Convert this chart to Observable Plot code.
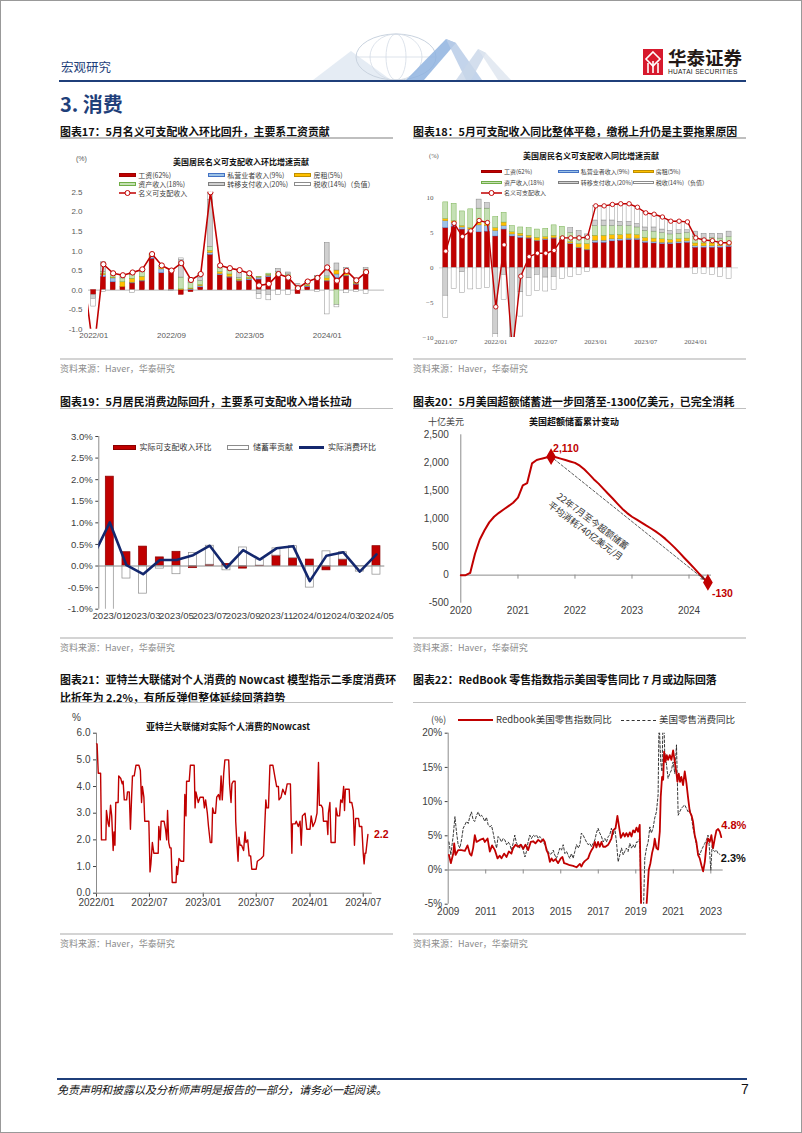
<!DOCTYPE html>
<html><head><meta charset="utf-8">
<script src="https://cdn.jsdelivr.net/npm/d3@7"></script>
<script src="https://cdn.jsdelivr.net/npm/@observablehq/plot@0.6"></script>
<style>
body{margin:0;background:#fff;}
#page{position:relative;width:802px;height:1133px;box-sizing:border-box;border:1px solid #999;overflow:hidden;font-family:"Noto Sans CJK SC","Liberation Sans",sans-serif;background:#fff;}
.abs{position:absolute;white-space:nowrap;line-height:1;}
</style></head><body><div id="page"></div>
<script>
// ---------------- DATA ----------------
// Chart 17: nominal disposable income, m/m contribution (%)
const months17 = ["2022/01","2022/02","2022/03","2022/04","2022/05","2022/06","2022/07","2022/08","2022/09","2022/10","2022/11","2022/12","2023/01","2023/02","2023/03","2023/04","2023/05","2023/06","2023/07","2023/08","2023/09","2023/10","2023/11","2023/12","2024/01","2024/02","2024/03","2024/04","2024/05"];
const ticks17 = ["2022/01","2022/09","2023/05","2024/01"];
const wage17 = [-0.12,0.33,0.2,0.08,0.17,0.22,0.8,0.43,0.48,-0.12,-0.05,0.07,0.9,0.38,0.32,0.22,0.25,0.27,0.33,0.33,0.28,-0.1,0.08,0.25,0.22,0.3,0.35,0.14,0.4];
const prop17 = [0,0.05,0.1,0,0.02,0.02,0.04,0.1,0.02,0,0.02,0.03,0.05,0.03,0.02,0.02,0.03,0.05,0.04,0.02,0.02,0.02,0.02,0.02,0.02,0.1,0.02,0.02,0.03];
const rent17 = [0,0.03,0.02,0.12,0.1,0.1,0.03,0.03,0,0.02,0.02,0.03,0.05,0.05,0.06,0.03,0.03,0.01,0.02,0.05,0.05,0.03,0.02,0.02,0.06,0.1,0.08,0.03,0.04];
const asset17 = [0,0.05,0.08,0.1,0.1,0.12,0.03,0.04,0.01,0.3,0.15,0.1,0.1,0.1,0.1,0.04,0.05,0.01,0.03,0.06,0.05,0.05,0.04,0.04,0.05,-0.38,0.05,0.05,0.05];
const transfer17 = [-0.1,0.25,0.02,0.08,0.05,0.07,0.02,0.03,0,0.45,0.1,0.08,1.2,0.07,0.06,0.2,0.07,-0.1,-0.12,0.08,0.05,0.05,0.06,0.03,0.85,0.18,0.07,0.06,0.04];
const tax17 = [-0.2,-0.05,0,0,-0.07,0,0,0,-0.02,0.04,0.02,0.1,0.2,0,0,0,0,-0.12,-0.14,-0.13,-0.13,0,0,-0.05,-0.62,-0.06,-0.08,-0.05,-0.1];
const total17 = [-1.6,0.66,0.43,0.38,0.45,0.53,0.92,0.63,0.5,0.69,0.26,0.41,2.5,0.63,0.56,0.51,0.43,0.12,0.16,0.41,0.32,0.05,0.22,0.31,0.58,0.24,0.49,0.25,0.46];
const prevTotal17 = 0.3; // 2021/12, only its segment enters the frame

// Chart 18: nominal disposable income, y/y contribution (%)
const months18 = ["2021/07","2021/08","2021/09","2021/10","2021/11","2021/12"].concat(months17);
const ticks18 = ["2021/07","2022/01","2022/07","2023/01","2023/07","2024/01"];
const wage18 = [5.7,5.9,5.5,5.2,5.1,5.2,4.5,5.5,4.5,4.3,4.2,3.8,4.0,4.2,4.0,3.4,2.8,2.5,3.6,3.6,3.8,3.9,4.0,4.0,3.6,3.5,3.4,3.4,3.5,3.6,2.9,2.9,2.9,2.9,3.0];
const prop18 = [1.0,0.5,0.3,0.3,1.0,0.8,0.8,0.5,0.3,0.3,0.1,0.1,0.1,0.1,0.1,0.1,0.1,0.1,0.3,0.3,0.3,0.2,0.2,0.2,0.2,0.2,0.2,0.2,0.2,0.2,0.2,0.2,0.2,0.2,0.2];
const rent18 = [0.3,0.3,0.2,0.2,0.4,0.3,0.4,0.5,0.3,0.3,0.3,0.4,0.3,0.3,0.3,0.2,0.5,0.8,0.7,0.7,0.6,0.6,0.6,0.5,0.5,0.5,0.5,0.4,0.4,0.4,0.4,0.4,0.4,0.3,0.4];
const asset18 = [2.4,2.5,2.1,2.7,2.0,2.2,1.6,1.4,0.9,0.9,1.1,1.2,1.2,1.5,1.5,1.3,1.1,0.7,1.4,1.4,1.3,1.3,1.2,1.1,1.0,1.0,0.9,0.8,0.8,0.8,0.9,0.7,0.8,0.8,0.8];
const transfer18 = [-4.0,0,-0.6,0,1.3,0.8,-9.5,-1.0,-14,-3.5,-1.5,-1.0,-1.4,-1.3,0,0.7,0.8,0.7,0.8,0.8,0.8,0.6,0.6,0.5,0.5,0.6,0.5,0.5,0.5,0.4,0.8,0.7,0.6,0.7,0.8];
const tax18 = [-3.2,-3.0,-3.0,-3.1,-3.0,-2.9,-3.4,-3.6,-3.7,-3.5,-2.5,-2.3,-2.0,-1.9,-1.6,-1.3,-1.0,-0.6,2.1,2.1,2.3,2.6,2.6,2.4,2.1,1.9,1.8,1.4,1.3,1.2,-0.9,-0.9,-1.0,-1.3,-1.6];
const total18 = [2.4,6.4,4.5,5.3,6.8,6.5,-5.6,3.3,-12,-1.2,1.6,2.1,2.1,2.5,4.3,4.3,4.3,4.4,8.9,8.9,9.1,9.2,9.2,8.7,7.9,7.7,7.3,6.7,6.7,6.6,4.3,4.0,3.9,3.6,3.6];

const compNames = ["工资(62%)","私营业者收入(9%)","房租(5%)","资产收入(18%)","转移支付收入(20%)","税收(14%)（负值）"];
const compFill = ["#C00000","#9DC3E6","#FFC000","#C5E0B4","#D0D0D0","#FFFFFF"];
const compStroke = ["#A00000","#4472C4","#BF8F00","#70AD47","#7F7F7F","#8C8C8C"];

// Chart 19: real income, saving contribution, real consumption m/m (%)
const months19 = ["2023/01","2023/02","2023/03","2023/04","2023/05","2023/06","2023/07","2023/08","2023/09","2023/10","2023/11","2023/12","2024/01","2024/02","2024/03","2024/04","2024/05"];
const income19 = [2.07,0.32,0.45,0.2,0.33,-0.05,0.03,0.05,-0.06,0.01,0.24,0.18,0.15,-0.1,0.15,0,0.46];
const saving19 = [-1.06,-0.29,-0.64,-0.06,-0.19,0.3,0.44,-0.1,0.43,0.14,0.17,0.28,-0.5,0.34,0.17,-0.13,-0.2];
const consumption19 = [1.01,0.02,-0.19,0.14,0.14,0.25,0.47,-0.04,0.37,0.15,0.41,0.46,-0.35,0.24,0.32,-0.13,0.27];
const prevConsumption19 = 0.22; // 2022/12

// Chart 20: cumulative excess savings (bn USD), monthly from 2020/01
const start20 = new Date(Date.UTC(2020,0,1));
const excess20 = [0,0,40,380,630,800,940,1040,1110,1170,1230,1290,1380,1600,1640,1990,2050,2075,2095,2110,2100,2075,2050,2025,2000,1950,1885,1800,1710,1630,1540,1450,1360,1270,1180,1105,1040,990,940,885,835,780,720,650,570,490,400,310,220,130,40,-50,-130];
const years20 = [2020,2021,2022,2023,2024];

// Chart 21: Atlanta Fed nowcast [days since 2022-01-01, %]
const nowcast21 = [[0,5.6],[2,5.6],[6,4.5],[14,4.5],[17,2.0],[32,2.0],[34,3.1],[40,2.6],[43,2.5],[48,3.3],[52,2.9],[57,1.6],[60,2.3],[63,1.8],[66,3.4],[74,3.4],[76,4.4],[83,4.3],[88,4.1],[91,4.2],[95,3.5],[103,3.5],[106,3.8],[112,3.8],[116,2.4],[120,3.6],[123,4.4],[129,4.4],[135,4.8],[145,4.8],[150,4.6],[154,3.4],[157,4.0],[162,3.6],[165,2.7],[179,2.7],[183,0.8],[186,1.1],[191,1.9],[196,1.5],[211,1.5],[213,2.5],[218,2.0],[221,2.7],[231,2.7],[236,2.4],[240,2.0],[243,3.1],[247,1.9],[251,1.7],[255,1.7],[259,0.4],[272,0.4],[274,1.0],[277,0.7],[282,1.3],[289,1.2],[298,1.2],[302,3.7],[306,2.9],[308,4.2],[317,4.2],[321,4.8],[334,4.8],[337,3.2],[340,3.8],[348,3.4],[354,3.6],[365,3.6],[369,3.2],[373,3.5],[379,3.0],[383,2.5],[389,1.9],[394,1.9],[397,3.2],[402,3.0],[407,3.0],[411,3.6],[417,3.7],[422,3.5],[426,4.4],[430,3.5],[435,4.5],[439,5.0],[452,5.0],[455,4.1],[460,3.4],[463,4.1],[468,4.2],[474,4.2],[476,2.7],[480,1.9],[484,1.2],[487,2.1],[491,1.8],[496,1.8],[503,1.6],[508,2.3],[511,1.9],[517,2.0],[522,1.4],[527,1.4],[531,0.9],[546,0.9],[550,1.2],[563,1.3],[571,1.4],[579,3.5],[582,3.2],[588,3.2],[593,4.8],[603,4.8],[611,4.3],[616,4.0],[622,4.0],[624,3.5],[631,3.6],[637,3.9],[645,3.7],[652,4.1],[663,4.1],[668,1.5],[670,2.6],[679,2.6],[683,2.7],[690,2.5],[696,2.7],[700,1.8],[704,2.9],[713,3.0],[719,2.4],[730,2.4],[734,2.9],[740,2.5],[748,2.7],[754,3.0],[759,4.9],[762,3.3],[768,3.3],[773,3.2],[776,2.7],[788,2.7],[791,2.2],[793,3.0],[798,3.4],[802,1.9],[816,1.9],[819,3.2],[824,2.9],[831,2.9],[835,3.5],[840,3.4],[845,4.0],[848,3.1],[851,3.9],[864,3.9],[866,3.4],[873,3.4],[878,3.1],[882,1.8],[886,2.8],[896,2.8],[899,2.5],[907,2.5],[912,1.5],[915,1.1],[918,1.5],[921,1.5],[924,1.8],[928,2.2]];
const ticks21 = ["2022-01","2022-07","2023-01","2023-07","2024-01","2024-07"];

// Chart 22: Redbook y/y and retail sales y/y [year, %]
const redbook22 = [[2009.04,2.2],[2009.14,1.0],[2009.27,2.4],[2009.32,3.9],[2009.39,2.2],[2009.53,2.9],[2009.71,2.9],[2009.89,2.8],[2010.03,3.6],[2010.15,2.4],[2010.24,2.1],[2010.33,3.2],[2010.42,5.1],[2010.51,4.1],[2010.69,4.4],[2010.87,4.6],[2010.95,4.1],[2011.10,4.6],[2011.22,2.7],[2011.34,3.6],[2011.49,2.9],[2011.63,1.7],[2011.75,2.1],[2011.84,1.7],[2011.98,2.4],[2012.11,1.9],[2012.23,2.7],[2012.37,2.4],[2012.46,3.2],[2012.59,3.7],[2012.73,3.4],[2012.87,3.7],[2013.00,3.1],[2013.12,3.7],[2013.26,2.9],[2013.40,4.1],[2013.53,4.2],[2013.65,3.9],[2013.80,4.4],[2013.94,4.1],[2014.06,4.5],[2014.15,4.1],[2014.24,2.9],[2014.33,2.4],[2014.42,1.2],[2014.51,1.7],[2014.60,1.3],[2014.72,1.6],[2014.86,1.0],[2015.00,1.7],[2015.09,1.9],[2015.18,1.0],[2015.31,0.9],[2015.48,0.7],[2015.66,0.6],[2015.84,0.4],[2016.02,0.9],[2016.10,0.5],[2016.19,1.0],[2016.28,1.3],[2016.46,1.7],[2016.55,2.4],[2016.64,2.9],[2016.73,3.3],[2016.82,4.1],[2016.90,3.3],[2016.99,4.1],[2017.08,3.4],[2017.17,4.1],[2017.26,3.4],[2017.38,3.4],[2017.53,3.7],[2017.61,4.1],[2017.70,4.6],[2017.79,5.8],[2017.92,6.1],[2018.02,7.9],[2018.11,6.3],[2018.20,4.7],[2018.33,5.4],[2018.41,4.9],[2018.50,5.4],[2018.59,4.9],[2018.68,5.5],[2018.77,4.9],[2018.86,5.8],[2018.95,5.5],[2019.04,6.2],[2019.12,5.6],[2019.21,6.6],[2019.30,-8],[2019.48,-9],[2019.60,-4.0],[2019.69,0.0],[2019.78,1.0],[2019.87,2.5],[2019.96,3.5],[2020.01,4.6],[2020.10,3.2],[2020.19,3.0],[2020.28,5.6],[2020.33,10.7],[2020.40,13.6],[2020.46,13.2],[2020.51,17.3],[2020.58,15.8],[2020.65,16.8],[2020.72,16.1],[2020.81,16.8],[2020.90,16.1],[2020.99,17.5],[2021.08,15.8],[2021.17,14.1],[2021.22,12.9],[2021.29,14.1],[2021.36,12.9],[2021.43,13.6],[2021.52,12.4],[2021.61,14.4],[2021.70,12.7],[2021.79,10.5],[2021.88,8.5],[2021.97,8.0],[2022.05,7.1],[2022.14,5.1],[2022.23,4.1],[2022.32,2.2],[2022.41,1.7],[2022.50,0.7],[2022.59,-0.2],[2022.68,1.2],[2022.77,3.7],[2022.85,4.6],[2022.94,4.1],[2023.03,5.1],[2023.12,3.2],[2023.21,4.6],[2023.30,5.8],[2023.39,6.0],[2023.48,5.6],[2023.56,4.8]];
const retail22 = [[2009.04,4.1],[2009.14,2.2],[2009.27,5.1],[2009.36,7.8],[2009.44,5.6],[2009.53,3.7],[2009.62,3.2],[2009.71,4.4],[2009.80,6.1],[2009.89,6.6],[2009.98,7.1],[2010.07,6.8],[2010.15,7.8],[2010.24,8.5],[2010.33,7.3],[2010.42,7.1],[2010.51,8.0],[2010.60,8.5],[2010.69,7.8],[2010.78,8.0],[2010.87,7.6],[2010.95,7.1],[2011.04,7.7],[2011.13,6.6],[2011.22,6.3],[2011.31,6.5],[2011.40,5.4],[2011.49,4.1],[2011.58,3.2],[2011.66,4.9],[2011.75,4.6],[2011.84,4.1],[2011.93,4.6],[2012.02,4.4],[2012.11,3.7],[2012.20,4.1],[2012.29,3.7],[2012.37,2.9],[2012.46,3.9],[2012.55,5.1],[2012.64,3.9],[2012.73,3.7],[2012.82,3.2],[2012.91,3.7],[2013.00,2.9],[2013.09,1.9],[2013.17,2.7],[2013.26,4.1],[2013.35,5.1],[2013.44,4.6],[2013.53,5.1],[2013.62,4.9],[2013.71,5.1],[2013.80,4.6],[2013.88,4.9],[2013.97,4.6],[2014.06,4.1],[2014.15,3.7],[2014.24,3.2],[2014.33,2.7],[2014.42,2.3],[2014.51,2.4],[2014.60,2.9],[2014.68,2.2],[2014.77,1.7],[2014.86,2.4],[2014.95,3.2],[2015.04,2.9],[2015.13,3.7],[2015.22,2.4],[2015.31,2.7],[2015.39,2.2],[2015.48,1.7],[2015.57,2.4],[2015.66,1.7],[2015.75,2.7],[2015.84,3.7],[2015.93,3.2],[2016.02,3.7],[2016.10,5.4],[2016.19,5.1],[2016.28,4.6],[2016.37,4.1],[2016.46,3.7],[2016.55,3.9],[2016.64,3.4],[2016.73,3.9],[2016.82,4.4],[2016.90,5.4],[2016.99,6.1],[2017.08,5.4],[2017.17,4.9],[2017.26,4.1],[2017.35,4.6],[2017.44,4.1],[2017.53,4.9],[2017.61,5.1],[2017.70,6.1],[2017.79,5.1],[2017.88,6.1],[2017.97,4.1],[2018.06,1.2],[2018.15,2.2],[2018.24,3.2],[2018.33,2.2],[2018.41,2.7],[2018.50,3.2],[2018.59,2.7],[2018.68,3.9],[2018.77,3.2],[2018.86,3.7],[2018.95,3.2],[2019.04,4.1],[2019.12,4.1],[2019.21,4.6],[2019.30,-6],[2019.39,-8],[2019.48,1.7],[2019.57,3.2],[2019.66,4.1],[2019.75,6.3],[2019.83,5.4],[2019.92,6.1],[2020.01,7.6],[2020.10,8.5],[2020.19,11.0],[2020.24,22],[2020.33,15.8],[2020.40,14.4],[2020.47,25],[2020.54,17.3],[2020.63,15.6],[2020.72,13.4],[2020.81,14.1],[2020.90,14.6],[2020.99,15.8],[2021.08,14.1],[2021.17,18.3],[2021.26,8.0],[2021.34,8.5],[2021.43,9.0],[2021.52,9.3],[2021.61,9.5],[2021.70,9.0],[2021.79,8.5],[2021.88,8.8],[2021.97,7.8],[2022.05,6.1],[2022.14,5.1],[2022.23,3.7],[2022.32,2.7],[2022.41,2.2],[2022.50,2.9],[2022.59,3.4],[2022.68,3.9],[2022.77,4.4],[2022.85,5.1],[2022.91,3.7],[2023.00,0.0],[2023.07,3.7],[2023.12,2.9],[2023.21,2.7],[2023.30,2.9],[2023.39,2.4],[2023.48,2.3]];
const years22 = [2009,2011,2013,2015,2017,2019,2021,2023];

// ---------------- HELPERS ----------------
const page = document.getElementById("page");
function TL(txt, x, cy, css = {}) { const d = document.createElement("div"); d.className = "abs"; d.textContent = txt; Object.assign(d.style, {left: x + "px", top: cy + "px", transform: "translateY(-50%)"}, css); page.appendChild(d); return d; }
function TC(txt, cx, cy, css = {}) { const d = TL(txt, cx, cy, css); d.style.transform = "translate(-50%,-50%)"; return d; }
function box(x, y, w, h, css = {}) { const d = document.createElement("div"); d.className = "abs"; Object.assign(d.style, {left: x + "px", top: y + "px", width: w + "px", height: h + "px", boxSizing: "border-box"}, css); page.appendChild(d); return d; }
function put(node, x, y) { node.style.position = "absolute"; node.style.left = x + "px"; node.style.top = y + "px"; page.appendChild(node); }
function svgAt(x, y, w, h, inner) { const d = document.createElement("div"); d.className = "abs"; Object.assign(d.style, {left: x + "px", top: y + "px"}); d.innerHTML = `<svg width="${w}" height="${h}" style="display:block;overflow:visible">${inner}</svg>`; page.appendChild(d); return d; }
const fmtNum = v => v.toLocaleString("en-US");
const sans = "'Liberation Sans',Arial,sans-serif";
const cjk = "'Noto Sans CJK SC',sans-serif";
// stack components per index: positives upward, negatives downward
function stackRows(n, comps) {
  const out = [];
  for (let i = 0; i < n; i++) {
    let pos = 0, neg = 0;
    comps.forEach((arr, k) => {
      const v = arr[i];
      if (v >= 0) { out.push({i, k, y1: pos, y2: pos + v}); pos += v; }
      else { out.push({i, k, y1: neg, y2: neg + v}); neg += v; }
    });
  }
  return out;
}

// ---------------- HEADER ----------------
TL("宏观研究", 60, 66, {fontSize: "12.5px", color: "#1F3F7A"});
svgAt(305, 30, 215, 50, `
  <polygon points="7,49 45,20 85,49" fill="#dfe7f1" opacity="0.8"/>
  <ellipse cx="90" cy="26" rx="40" ry="23" fill="none" stroke="#c9d3df" stroke-width="1"/>
  <ellipse cx="90" cy="26" rx="26" ry="23" fill="none" stroke="#d4dce6" stroke-width="0.8"/>
  <ellipse cx="90" cy="26" rx="10" ry="23" fill="none" stroke="#d4dce6" stroke-width="0.8"/>
  <line x1="50" y1="26" x2="130" y2="26" stroke="#d4dce6" stroke-width="0.8"/>
  <polygon points="100,49 140,8 150,12 118,49" fill="#8fb3df" opacity="0.85"/>
  <polygon points="140,8 150,12 176,49 160,49" fill="#b9cde8" opacity="0.85"/>
  <polygon points="150,49 172,18 180,22 165,49" fill="#c8d6e8" opacity="0.8"/>
  <polygon points="172,18 180,22 205,49 192,49" fill="#dde5ef" opacity="0.8"/>`);
svgAt(642, 48, 20, 26, `
  <rect x="0" y="0" width="20" height="26" fill="#D7192D"/>
  <path d="M10 3 L17 10 L10 17 L3 10 Z" fill="none" stroke="#fff" stroke-width="1.6"/>
  <path d="M5 14 V24 M10 12 V24 M15 14 V24" stroke="#fff" stroke-width="1.6"/>`);
TL("华泰证券", 667, 56, {fontSize: "18.5px", fontWeight: "bold", color: "#231815"});
TL("HUATAI SECURITIES", 667, 71, {fontSize: "6.6px", fontFamily: sans, color: "#231815", letterSpacing: "0.3px"});
box(58, 79, 687, 2, {background: "#1F3F7A"});
TL("3. 消费", 59, 103, {fontSize: "20px", fontWeight: "bold", color: "#1F3F7A"});

// ---------------- TITLES / SOURCES ----------------
const titleCss = {fontSize: "10.9px", fontWeight: "bold", color: "#111"};
const srcCss = {fontSize: "9px", color: "#8c8c8c"};
function underline(x, y) { box(x, y, 333, 1.5, {background: "#BFBFBF"}); }
function source(x, lineY) { box(x, lineY, 333, 2, {background: "#D4D4D4"}); TL("资料来源：Haver，华泰研究", x, lineY + 10, srcCss); }

TL("图表17：5月名义可支配收入环比回升，主要系工资贡献", 59, 130, titleCss);
TL("图表18：5月可支配收入同比整体平稳，缴税上升仍是主要拖累原因", 412, 130, titleCss);
underline(59, 136); underline(412, 136);
source(59, 357); source(412, 357);

TL("图表19：5月居民消费边际回升，主要系可支配收入增长拉动", 59, 400, titleCss);
TL("图表20：5月美国超额储蓄进一步回落至-1300亿美元，已完全消耗", 412, 400, titleCss);
underline(59, 406.5); underline(412, 406.5);
source(59, 636); source(412, 636);

TL("图表21：亚特兰大联储对个人消费的 Nowcast 模型指示二季度消费环", 59, 678, titleCss);
TL("比折年为 2.2%，有所反弹但整体延续回落趋势", 59, 696, titleCss);
TL("图表22：RedBook 零售指数指示美国零售同比 7 月或边际回落", 412, 678, titleCss);
underline(59, 700.5); underline(412, 700.5);
source(59, 932); source(412, 932);

box(56, 1076.5, 690, 2, {background: "#1F3F7A"});
TL("免责声明和披露以及分析师声明是报告的一部分，请务必一起阅读。", 56, 1088, {fontSize: "11px", fontStyle: "italic", color: "#111"});
TL("7", 740, 1088, {fontSize: "14px", fontFamily: sans, color: "#111"});

// ---------------- LEGEND HELPERS ----------------
function swatch(x, cy, w, h, k) { box(x, cy - h / 2, w, h, {background: compFill[k], border: `0.7px solid ${compStroke[k]}`}); }
function lineMarkerSwatch(x, cy, w) { svgAt(x, cy - 4, w, 8, `<line x1="0" y1="4" x2="${w}" y2="4" stroke="#C00000" stroke-width="1.5"/><circle cx="${w/2}" cy="4" r="2.5" fill="#fff" stroke="#C00000" stroke-width="1"/>`); }

// ---------------- CHART 17 ----------------
{
  const comps = [wage17, prop17, rent17, asset17, transfer17, tax17];
  const bars = stackRows(months17.length, comps);
  const line = [{i: -1, v: prevTotal17}].concat(total17.map((v, i) => ({i, v})));
  put(Plot.plot({
    width: 330, height: 205, marginLeft: 27, marginRight: 7, marginTop: 50.7, marginBottom: 17.2,
    style: {fontFamily: sans, fontSize: "8px", color: "#595959", background: "transparent", overflow: "visible"},
    x: {domain: [-0.534, 29.89], ticks: ticks17.map(t => months17.indexOf(t)), tickFormat: i => months17[i], tickSize: 0, tickPadding: 3, label: null},
    y: {domain: [-1, 2.5], ticks: [-1, -0.5, 0, 0.5, 1, 1.5, 2, 2.5], tickFormat: d => d.toFixed(1), tickSize: 0, tickPadding: 6, label: null},
    color: {type: "identity"},
    marks: [
      Plot.ruleY([0], {stroke: "#a6a6a6", strokeWidth: 0.8}),
      Plot.rect(bars, {x1: d => d.i - 0.25, x2: d => d.i + 0.25, y1: "y1", y2: "y2", fill: d => compFill[d.k], stroke: d => compStroke[d.k], strokeWidth: 0.5, clip: true}),
      Plot.line(line, {x: "i", y: "v", stroke: "#C00000", strokeWidth: 1.6, clip: true}),
      Plot.dot(line, {x: "i", y: "v", r: 2.6, fill: "#fff", stroke: "#C00000", strokeWidth: 1, clip: true})
    ]
  }), 60, 140);
  TC("美国居民名义可支配收入环比增速贡献", 240, 161, {fontSize: "8px", fontWeight: "bold", color: "#111"});
  TL("(%)", 75, 157, {fontSize: "7px", color: "#595959", fontFamily: sans});
  const cols = [117.7, 206.7, 293], rows = [174.3, 183];
  compNames.forEach((name, k) => {
    const x = cols[k % 3], y = rows[Math.floor(k / 3)];
    swatch(x, y, 17, 4.2, k);
    TL(name, x + 19.5, y, {fontSize: "7px", color: "#404040"});
  });
  lineMarkerSwatch(117.7, 192.3, 17);
  TL("名义可支配收入", 137.2, 192.3, {fontSize: "7px", color: "#404040"});
}

// ---------------- CHART 18 ----------------
{
  const comps = [wage18, prop18, rent18, asset18, transfer18, tax18];
  const bars = stackRows(months18.length, comps);
  const line = total18.map((v, i) => ({i, v}));
  put(Plot.plot({
    width: 335, height: 210, marginLeft: 28, marginRight: 8, marginTop: 56.7, marginBottom: 14,
    style: {fontFamily: "'Liberation Serif','Times New Roman',serif", fontSize: "7px", color: "#595959", background: "transparent", overflow: "visible"},
    x: {domain: [-0.756, 35.13], ticks: ticks18.map(t => months18.indexOf(t)), tickFormat: i => months18[i], tickSize: 0, tickPadding: 2, label: null},
    y: {domain: [-10, 10], ticks: [-10, -5, 0, 5, 10], tickSize: 0, tickPadding: 6, label: null},
    color: {type: "identity"},
    marks: [
      Plot.ruleY([0], {stroke: "#bfbfbf", strokeWidth: 0.6}),
      Plot.rect(bars, {x1: d => d.i - 0.3, x2: d => d.i + 0.3, y1: "y1", y2: "y2", fill: d => compFill[d.k], stroke: d => compStroke[d.k], strokeWidth: 0.45, clip: true}),
      Plot.line(line, {x: "i", y: "v", stroke: "#C00000", strokeWidth: 1.4, clip: true}),
      Plot.dot(line, {x: "i", y: "v", r: 2.2, fill: "#fff", stroke: "#C00000", strokeWidth: 0.9, clip: true})
    ]
  }), 410, 140);
  TC("美国居民名义可支配收入同比增速贡献", 590, 155, {fontSize: "8px", fontWeight: "bold", color: "#111"});
  TL("(%)", 428, 155, {fontSize: "6.5px", color: "#595959", fontFamily: "'Liberation Serif',serif"});
  const cols = [480, 556.7, 631.7], rows = [170.7, 181.7];
  compNames.forEach((name, k) => {
    const x = cols[k % 3], y = rows[Math.floor(k / 3)];
    swatch(x, y, 21, 3.6, k);
    TL(name, x + 23, y, {fontSize: "6px", color: "#404040"});
  });
  lineMarkerSwatch(480, 192.3, 21);
  TL("名义可支配收入", 503, 192.3, {fontSize: "6px", color: "#404040"});
}

// ---------------- CHART 19 ----------------
{
  const bars = stackRows(months19.length, [income19, saving19]);
  const line = [{i: -1, v: prevConsumption19}].concat(consumption19.map((v, i) => ({i, v})));
  put(Plot.plot({
    width: 330, height: 200, marginLeft: 37.3, marginRight: 6.7, marginTop: 10, marginBottom: 17.3,
    style: {fontFamily: sans, fontSize: "9.6px", color: "#404040", background: "transparent", overflow: "visible"},
    x: {domain: [-0.66, 16.5], ticks: d3.range(0, 17, 2), tickFormat: i => months19[i], tickSize: 0, tickPadding: 3, label: null},
    y: {domain: [-1, 3], ticks: d3.range(-1, 3.01, 0.5), tickFormat: d => d.toFixed(1) + "%", tickSize: 3, tickPadding: 3, label: null},
    marks: [
      Plot.rect(bars, {x1: d => d.i - 0.24, x2: d => d.i + 0.24, y1: "y1", y2: "y2", fill: d => d.k ? "#ffffff" : "#C00000", stroke: d => d.k ? "#8c8c8c" : "#8B0000", strokeWidth: 0.7, clip: true}),
      Plot.ruleY([0], {stroke: "#8c8c8c"}),
      Plot.ruleX([-0.66], {stroke: "#8c8c8c"}),
      Plot.line(line, {x: "i", y: "v", stroke: "#14286E", strokeWidth: 2.6, clip: true})
    ]
  }), 60, 425);
  box(111.5, 443.5, 23.5, 5.5, {background: "#C00000", border: "0.7px solid #8B0000"});
  TL("实际可支配收入环比", 138.5, 446, {fontSize: "8px", color: "#333"});
  box(225.7, 443.5, 22.6, 5.5, {background: "#fff", border: "0.8px solid #8c8c8c"});
  TL("储蓄率贡献", 252, 446, {fontSize: "8px", color: "#333"});
  box(298.3, 445, 25, 2.6, {background: "#14286E"});
  TL("实际消费环比", 327, 446, {fontSize: "8px", color: "#333"});
}

// ---------------- CHART 20 ----------------
{
  const data = excess20.map((v, i) => ({date: d3.utcMonth.offset(start20, i), v}));
  const peak = data.reduce((a, b) => (b.v > a.v ? b : a));
  const end = data[data.length - 1];
  const mid = {date: new Date((+peak.date + +end.date) / 2), v: (peak.v + end.v) / 2};
  const yearDates = years20.map(y => new Date(Date.UTC(y, 0, 1)));
  put(Plot.plot({
    width: 335, height: 195, marginLeft: 49.3, marginRight: 35, marginTop: 8.3, marginBottom: 18.3,
    style: {fontFamily: sans, fontSize: "10px", color: "#404040", background: "transparent", overflow: "visible"},
    x: {type: "utc", domain: [start20, new Date(Date.UTC(2024, 4, 24))], ticks: yearDates, tickFormat: d3.utcFormat("%Y"), tickSize: 0, tickPadding: 4, label: null},
    y: {domain: [-500, 2500], ticks: d3.range(-500, 2501, 500), tickFormat: fmtNum, tickSize: 0, tickPadding: 12, label: null},
    marks: [
      Plot.ruleX([start20], {stroke: "#8c8c8c"}),
      Plot.ruleY([0], {stroke: "#8c8c8c"}),
      Plot.ruleX(yearDates.slice(1), {y1: 0, y2: 0, insetBottom: -4, stroke: "#8c8c8c"}),
      Plot.line(data, {x: "date", y: "v", stroke: "#C00000", strokeWidth: 2}),
      Plot.arrow([{p: peak, e: end}], {x1: d => d.p.date, y1: d => d.p.v, x2: d => d.e.date, y2: d => d.e.v, stroke: "#333", strokeWidth: 0.8, strokeDasharray: "2.5,2", headLength: 6, insetStart: 4, insetEnd: 5}),
      Plot.dot([peak, end], {x: "date", y: "v", symbol: "diamond", r: 4.2, fill: "#C00000", stroke: "#C00000"}),
      Plot.text([peak], {x: "date", y: "v", text: d => fmtNum(d.v), textAnchor: "start", dx: 2, dy: -8, fill: "#C00000", fontWeight: "bold", fontSize: 10.5}),
      Plot.text([end], {x: "date", y: "v", text: d => fmtNum(d.v), textAnchor: "start", dx: 4, dy: 11, fill: "#C00000", fontWeight: "bold", fontSize: 10.5}),
      Plot.text([mid], {x: "date", y: "v", text: () => "22年7月至今超额储蓄\n平均消耗740亿美元/月", rotate: 37, dx: -40, dy: 6, fontSize: 9, fill: "#333", fontFamily: cjk, lineHeight: 1.35})
    ]
  }), 410, 425);
  TC("美国超额储蓄累计变动", 573, 420, {fontSize: "9px", fontWeight: "bold", color: "#111"});
  TL("十亿美元", 427, 420, {fontSize: "9px", color: "#404040"});
}

// ---------------- CHART 21 ----------------
{
  const t0 = Date.UTC(2022, 0, 1);
  const data = nowcast21.map(([d, v]) => ({date: new Date(t0 + d * 864e5), v}));
  const last = data[data.length - 1];
  const tickDates = ticks21.map(s => new Date(s + "-01T00:00:00Z"));
  put(Plot.plot({
    width: 335, height: 190, marginLeft: 40, marginRight: 19.2, marginTop: 6.7, marginBottom: 23.3,
    style: {fontFamily: sans, fontSize: "10px", color: "#404040", background: "transparent", overflow: "visible"},
    x: {type: "utc", domain: [new Date(t0), new Date(Date.UTC(2024, 7, 1))], ticks: tickDates, tickFormat: d3.utcFormat("%Y/%m"), tickSize: 4, tickPadding: 2, label: null},
    y: {domain: [0, 6], ticks: d3.range(0, 7), tickFormat: d => d.toFixed(1), tickSize: 3, tickPadding: 3, label: null},
    marks: [
      Plot.ruleX([new Date(t0)], {stroke: "#8c8c8c"}),
      Plot.ruleY([0], {stroke: "#8c8c8c"}),
      Plot.line(data, {x: "date", y: "v", stroke: "#C00000", strokeWidth: 1.4}),
      Plot.text([last], {x: "date", y: "v", text: d => d.v.toFixed(1), textAnchor: "start", dx: 6, dy: 0, fill: "#C00000", fontWeight: "bold", fontSize: 10.5})
    ]
  }), 55, 725);
  TC("亚特兰大联储对实际个人消费的Nowcast", 227, 725, {fontSize: "9px", fontWeight: "bold", color: "#111"});
  TL("%", 71, 717, {fontSize: "10px", color: "#404040", fontFamily: sans});
}

// ---------------- CHART 22 ----------------
{
  const red = redbook22.map(([x, v]) => ({x, v}));
  const ret = retail22.map(([x, v]) => ({x, v}));
  put(Plot.plot({
    width: 345, height: 200, marginLeft: 46.7, marginRight: 23.3, marginTop: 9.7, marginBottom: 19.3,
    style: {fontFamily: sans, fontSize: "10px", color: "#404040", background: "transparent", overflow: "visible"},
    x: {domain: [2009, 2023.66], ticks: years22, tickFormat: d => String(d), tickSize: 0, tickPadding: 4, label: null},
    y: {domain: [-5, 20], ticks: d3.range(-5, 21, 5), tickFormat: d => d + "%", tickSize: 3, tickPadding: 3, label: null},
    marks: [
      Plot.ruleX([2009], {stroke: "#8c8c8c"}),
      Plot.ruleY([0], {stroke: "#8c8c8c"}),
      Plot.ruleX(years22.slice(1), {y1: 0, y2: 0, insetBottom: -4, stroke: "#8c8c8c"}),
      Plot.line(ret, {x: "x", y: "v", stroke: "#222", strokeWidth: 0.9, strokeDasharray: "2.5,2", clip: true}),
      Plot.line(red, {x: "x", y: "v", stroke: "#C00000", strokeWidth: 1.8, clip: true}),
      Plot.text([red[red.length - 1]], {x: "x", y: "v", text: d => d.v.toFixed(1) + "%", textAnchor: "start", dx: 0, dy: -12, fill: "#C00000", fontWeight: "bold", fontSize: 11}),
      Plot.text([ret[ret.length - 1]], {x: "x", y: "v", text: d => d.v.toFixed(1) + "%", textAnchor: "start", dx: 1, dy: 4, fill: "#111", fontWeight: "bold", fontSize: 11})
    ]
  }), 400, 722);
  TL("(%)", 430, 719, {fontSize: "9.5px", color: "#404040"});
  box(457, 718, 35, 2, {background: "#C00000"});
  TL("Redbook美国零售指数同比", 495, 719, {fontSize: "9.5px", color: "#333"});
  box(620, 719, 35, 0, {borderTop: "1px dashed #333"});
  TL("美国零售消费同比", 658, 719, {fontSize: "9.5px", color: "#333"});
}
</script></body></html>
